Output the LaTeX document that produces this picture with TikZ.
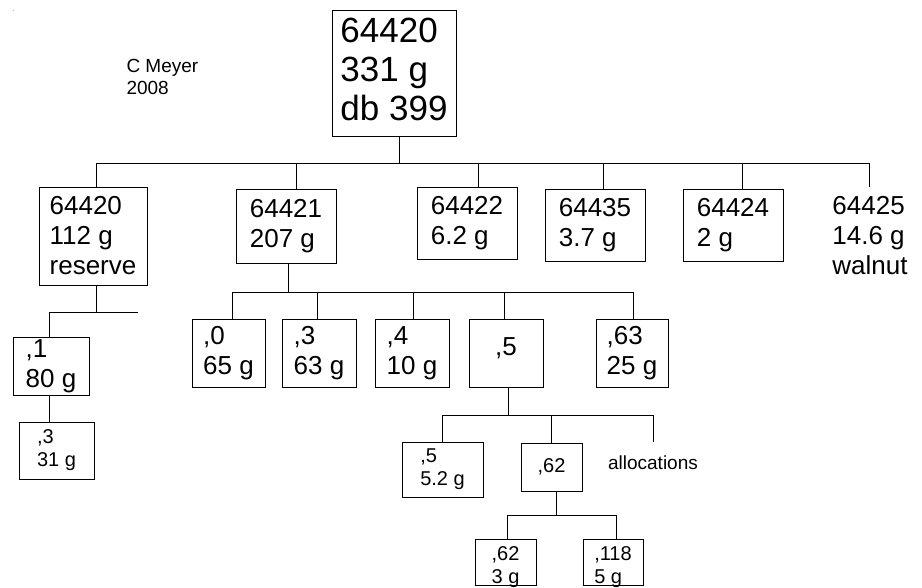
\documentclass[tikz,border=0pt]{standalone}
\usepackage{fontspec}
\setmainfont{Liberation Sans}
\usetikzlibrary{positioning}

\tikzset{
  box/.style={draw, line width=1pt, inner sep=2pt, align=left},
  bigtext/.style={font=\fontsize{35}{39}\selectfont},
  midtext/.style={font=\fontsize{26}{30}\selectfont},
  smalltext/.style={font=\fontsize{20}{23}\selectfont},
  notetext/.style={font=\fontsize{19}{22}\selectfont, align=left},
}

\begin{document}
\begin{tikzpicture}[x=1pt, y=-1pt, line width=1pt]
        \useasboundingbox (0,0) rectangle (922,587);
        % Author note
        \fill[gray!60] (12.5,9.5) rectangle (13.5,10.5);
        \node[notetext, anchor=north west, inner sep=0pt] (note) at (126,59) {C Meyer\\2008};
        % Root
        \node[box, bigtext, minimum width=124, minimum height=126, text depth=7pt] (root) at (394,73) {64420\\331 g\\db 399};
        % First level
        \node[box, midtext, minimum width=108, minimum height=98] (r1) at (93,236) {64420\\112 g\\reserve};
        \node[box, midtext, minimum width=100, minimum height=74] (r2) at (286,226) {64421\\207 g};
        \node[box, midtext, minimum width=100, minimum height=72] (r3) at (467,223) {64422\\6.2 g};
        \node[box, midtext, minimum width=100, minimum height=72] (r4) at (595,225) {64435\\3.7 g};
        \node[box, midtext, minimum width=100, minimum height=72] (r5) at (733,225) {64424\\2 g};
        \node[midtext, align=left, inner sep=2pt, minimum height=98] (r6) at (870,236) {64425\\14.6 g\\walnut};
        % Reserve branch
        \node[box, midtext, minimum width=76, minimum height=58] (a1) at (51,366) {,1\\80 g};
        \node[box, smalltext, minimum width=75, minimum height=57] (a2) at (56.5,450.5) {,3\\31 g};
        % 64421 branch
        \node[box, midtext, minimum width=73, minimum height=68] (b1) at (228.5,353) {,0\\65 g};
        \node[box, midtext, minimum width=74, minimum height=68] (b2) at (319,353) {,3\\63 g};
        \node[box, midtext, minimum width=74, minimum height=68] (b3) at (412,353) {,4\\10 g};
        \node[box, midtext, minimum width=74, minimum height=68, text depth=12pt] (b4) at (506,353) {,5};
        \node[box, midtext, minimum width=72, minimum height=68] (b5) at (632,353) {,63\\25 g};
        % ,5 branch
        \node[box, smalltext, minimum width=81, minimum height=55] (c1) at (442.5,469.5) {,5\\5.2 g};
        \node[box, smalltext, minimum width=61, minimum height=48] (c2) at (551.5,467) {,62};
        \node[notetext, inner sep=2pt, minimum height=42] (c3) at (653,463) {allocations};
        % ,62 branch
        \node[box, smalltext, minimum width=61, minimum height=46, text height=42pt, text depth=0pt] (d1) at (505.5,562) {,62\\3 g};
        \node[box, smalltext, minimum width=60, minimum height=46, text height=42pt, text depth=0pt] (d2) at (613,562) {,118\\5 g};

        % Connectors, top level
        \coordinate (bus1) at (0,163);
        \draw ([xshift=5]root.south) -- ([xshift=5]root.south |- bus1);
        \draw ([xshift=3]r1.north |- bus1) -- ([xshift=-1]r6.north |- bus1);
        \foreach \n/\dx in {r1/3, r2/10, r3/11, r4/8, r5/9, r6/-1}
          \draw ([xshift=\dx]\n.north) -- ([xshift=\dx]\n.north |- bus1);
        % Connectors, reserve
        \coordinate (bus2) at (0,312);
        \coordinate (bus2e) at (138,312);
        \draw ([xshift=3]r1.south) -- ([xshift=3]r1.south |- bus2);
        \draw ([xshift=-2]a1.north |- bus2) -- (bus2e);
        \draw ([xshift=-2]a1.north) -- ([xshift=-2]a1.north |- bus2);
        \draw ([xshift=-2]a1.south) -- ([xshift=-2]a1.south |- a2.north);
        % Connectors, 64421
        \coordinate (bus3) at (0,292);
        \draw ([xshift=2]r2.south) -- ([xshift=2]r2.south |- bus3);
        \draw ([xshift=3.5]b1.north |- bus3) -- ([xshift=1]b5.north |- bus3);
        \foreach \n/\dx in {b1/3.5, b2/-2, b3/1, b4/-2, b5/1}
          \draw ([xshift=\dx]\n.north) -- ([xshift=\dx]\n.north |- bus3);
        % Connectors, ,5
        \coordinate (bus4) at (0,415);
        \draw ([xshift=2]b4.south) -- ([xshift=2]b4.south |- bus4);
        \draw (c1.north |- bus4) -- (c3.north |- bus4);
        \foreach \n in {c1, c2, c3}
          \draw (\n.north) -- (\n.north |- bus4);
        % Connectors, ,62
        \coordinate (bus5) at (0,515);
        \draw ([xshift=4.5]c2.south) -- ([xshift=4.5]c2.south |- bus5);
        \draw ([xshift=1.5]d1.north |- bus5) -- ([xshift=3]d2.north |- bus5);
        \foreach \n/\dx in {d1/1.5, d2/3}
          \draw ([xshift=\dx]\n.north) -- ([xshift=\dx]\n.north |- bus5);
\end{tikzpicture}
\end{document}
